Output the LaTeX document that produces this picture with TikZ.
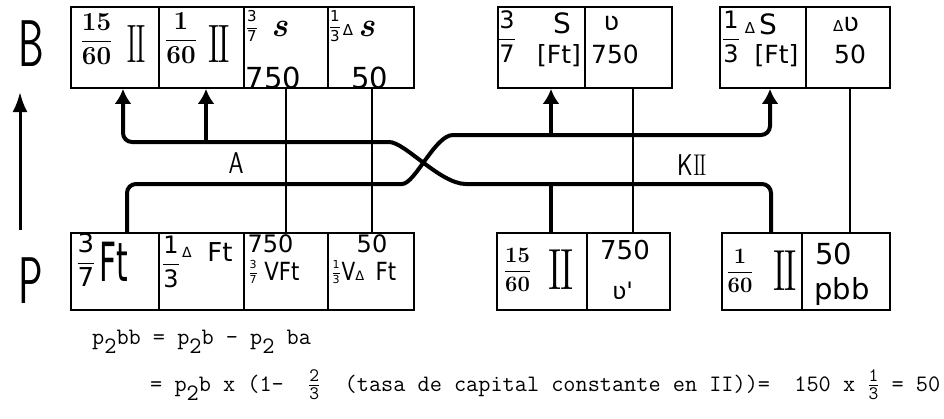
\documentclass[tikz,border=0pt]{standalone}
\usepackage{fontspec}
\usepackage{amsmath}
\usepackage{graphicx}
\usetikzlibrary{arrows.meta}
\newfontfamily\hw{DejaVu Sans}
\newcommand\fsz[1]{\fontsize{#1}{#1}\selectfont}
\newcommand\bfr[2]{\ensuremath{\displaystyle\frac{\mbox{\rmfamily\bfseries #1}}{\mbox{\rmfamily\bfseries #2}}}}
\newcommand\hfr[2]{\ensuremath{\displaystyle\frac{\mbox{#1}}{\mbox{#2}}}}
\newcommand\IIg{\textrm{I\kern-0.07em I}}
\newcommand\sbx[1]{\raisebox{-0.38em}{#1}}
\newcommand\tfr[2]{\ensuremath{\frac{\mbox{\fsz{19}#1}}{\mbox{\fsz{19}#2}}}}
\begin{document}
\begin{tikzpicture}[x=1pt,y=-1pt,
  cell/.style={draw, line width=1.8pt, minimum height=#1, inner sep=0pt},
  cell/.default=81pt,
  tx/.style={inner sep=0pt, font=\hw},
  flow/.style={line width=4pt, rounded corners=9pt},
  thinline/.style={line width=2.4pt},
  tip/.style={-{Latex[length=15pt,width=17pt]}},
  formula/.style={anchor=west, inner sep=0pt, font=\ttfamily\fsz{23.6}}]
\useasboundingbox (0,0) rectangle (944,418);
% top row
\node[cell, minimum width=88pt] (t1) at (115,47.5) {};
\node[cell, minimum width=85pt] (t2) at (201.5,47.5) {};
\node[cell, minimum width=84pt] (t3) at (286,47.5) {};
\node[cell, minimum width=86pt] (t4) at (371,47.5) {};
\node[cell, minimum width=87pt] (t5) at (541.5,47.5) {};
\node[cell, minimum width=87pt] (t6) at (628.5,47.5) {};
\node[cell, minimum width=86pt] (t7) at (763,47.5) {};
\node[cell, minimum width=84pt] (t8) at (848,47.5) {};
% bottom row
\node[cell=77pt, minimum width=88pt] (b1) at (115,271.5) {};
\node[cell=77pt, minimum width=85pt] (b2) at (201.5,271.5) {};
\node[cell=77pt, minimum width=84pt] (b3) at (286,271.5) {};
\node[cell=77pt, minimum width=86pt] (b4) at (371,271.5) {};
\node[cell=77pt, minimum width=90pt] (b5) at (542,271.5) {};
\node[cell=77pt, minimum width=83pt] (b6) at (628.5,271.5) {};
\node[cell=77pt, minimum width=80pt] (b7) at (762,271.5) {};
\node[cell=77pt, minimum width=88pt] (b8) at (846,271.5) {};
% top texts
\node[tx] (t1a) at (96.5,39) {\fsz{26}\bfr{15}{60}};
\node[tx] (t1b) at (136.5,44.5) {\fsz{54}\scalebox{0.62}[1]{\IIg}};
\node[tx] (t2a) at (181,38) {\fsz{26}\bfr{1}{60}};
\node[tx] (t2b) at (219,44) {\fsz{54}\scalebox{0.75}[1]{\IIg}};
\node[tx] (t3a) at (252,26) {\fsz{15}\hfr{3}{7}};
\node[tx] (t3b) at (280,29) {\fsz{34}\rmfamily\bfseries\itshape s};
\node[tx] (t3c) at (273.5,78) {\fsz{29}750};
\node[tx] (t4a) at (335,26) {\fsz{15}\hfr{1}{3}};
\node[tx] (t4b) at (348,30) {\fsz{15}Δ};
\node[tx] (t4c) at (367,29) {\fsz{34}\rmfamily\bfseries\itshape s};
\node[tx] (t4d) at (370,78) {\fsz{29}50};
\node[tx] (t5a) at (507,37) {\fsz{24}\hfr{3}{7}};
\node[tx] (t5b) at (562,23) {\fsz{28}S};
\node[tx] (t5c) at (559,56) {\fsz{25}[Ft]};
\node[tx] (t6a) at (611.5,23.5) {\fsz{26}ʋ};
\node[tx] (t6b) at (615,54) {\fsz{25}750};
\node[tx] (t7a) at (731,37) {\fsz{24}\hfr{1}{3}};
\node[tx] (t7b) at (750,28) {\fsz{15}Δ};
\node[tx] (t7c) at (768,24) {\fsz{28}S};
\node[tx] (t7d) at (776.5,56) {\fsz{25}[Ft]};
\node[tx] (t8a) at (846,24.5) {\fsz{15}Δ\fsz{26}ʋ};
\node[tx] (t8b) at (850,54) {\fsz{25}50};
% bottom texts
\node[tx] (b1a) at (86,260) {\fsz{26}\hfr{3}{7}};
\node[tx] (b1b) at (114,262) {\fsz{54}\scalebox{0.55}[1]{Ft}};
\node[tx] (b2a) at (171,262) {\fsz{24}\hfr{1}{3}};
\node[tx] (b2b) at (187,252) {\fsz{14}Δ};
\node[tx] (b2c) at (220,252) {\fsz{26}Ft};
\node[tx] (b3a) at (270.5,244) {\fsz{24}750};
\node[tx] (b3b) at (253,272) {\fsz{11}\hfr{3}{7}};
\node[tx] (b3c) at (282,271) {\fsz{25}\scalebox{0.85}[1]{VFt}};
\node[tx] (b4a) at (372,244) {\fsz{24}50};
\node[tx] (b4b) at (336,272) {\fsz{11}\hfr{1}{3}};
\node[tx] (b4c) at (353,271) {\fsz{25}\scalebox{0.8}[1]{V}\fsz{13}Δ};
\node[tx] (b4d) at (386,271) {\fsz{25}\scalebox{0.85}[1]{Ft}};
\node[tx] (b5a) at (517.5,270) {\fsz{22}\bfr{15}{60}};
\node[tx] (b5b) at (561,270) {\fsz{58}\scalebox{0.8}[1]{\IIg}};
\node[tx] (b6a) at (625,250) {\fsz{26}750};
\node[tx] (b6b) at (622.5,291) {\fsz{24}ʋ'};
\node[tx] (b7a) at (740,271) {\fsz{22}\bfr{1}{60}};
\node[tx] (b7b) at (785,271) {\fsz{58}\scalebox{0.75}[1]{\IIg}};
\node[tx] (b8a) at (833.5,253.5) {\fsz{29}50};
\node[tx] (b8b) at (842,291) {\fsz{29}pbb};
% side labels
\node[inner sep=0pt, font=\sffamily] (B) at (31,43.5) {\fsz{66}\scalebox{0.62}[1]{B}};
\node[inner sep=0pt, font=\sffamily] (P) at (31,281) {\fsz{66}\scalebox{0.62}[1]{P}};
\coordinate (la1) at (20,230);
\coordinate (la2) at (20,92);
\draw[line width=3pt, -{Latex[length=20pt,width=15pt]}] (la1) -- (la2);
\node[inner sep=0pt, font=\sffamily] (A) at (236,163) {\fsz{30}\scalebox{0.8}[1]{A}};
\node[inner sep=0pt, font=\sffamily] (K) at (692,165) {\fsz{30}\scalebox{0.8}[1]{K\IIg}};
% flow coordinates
\coordinate (c1) at (393,184);
\coordinate (c2) at (462,135);
\coordinate (c3) at (475,184);
\coordinate (c4) at (380,142);
% vertical links
\draw[thinline] (t3.south) -- (b3.north);
\draw[thinline] ([xshift=1pt]t4.south) -- ([xshift=1pt]b4.north);
\draw[thinline] ([xshift=4.5pt]t6.south) -- ([xshift=4.5pt]b6.north);
\draw[thinline] ([xshift=2pt]t8.south) -- ([xshift=4pt]b8.north);
% flows
\draw[flow, tip] ([xshift=12pt]b1.north) |- (c1) .. controls (415,184) and (435,135) .. (c2) -| ([xshift=7pt]t7.south);
\draw[flow, tip] ([xshift=9pt]b7.north) |- (c3) .. controls (440,184) and (405,142) .. (c4) -| ([xshift=8pt]t1.south);
\coordinate (j1) at ([xshift=4.5pt]t2.south |- c4);
\coordinate (j2) at ([xshift=9.5pt]t5.south |- c2);
\coordinate (j3) at ([xshift=9pt]b5.north |- c3);
\draw[flow, tip] (j1) -- ([xshift=4.5pt]t2.south);
\draw[flow, tip] (j2) -- ([xshift=9.5pt]t5.south);
\draw[flow] ([xshift=9pt]b5.north) -- (j3);
% formulas
\node[formula] (f1) at (92,342) {p\sbx{2}bb = p\sbx{2}b - p\sbx{2} ba};
\node[formula] (f2) at (150,385) {= p\sbx{2}b x (1-\ \ \tfr{2}{3}\ \ (tasa de capital constante en II))=\ \ 150 x \tfr{1}{3} = 50};
\end{tikzpicture}
\end{document}
